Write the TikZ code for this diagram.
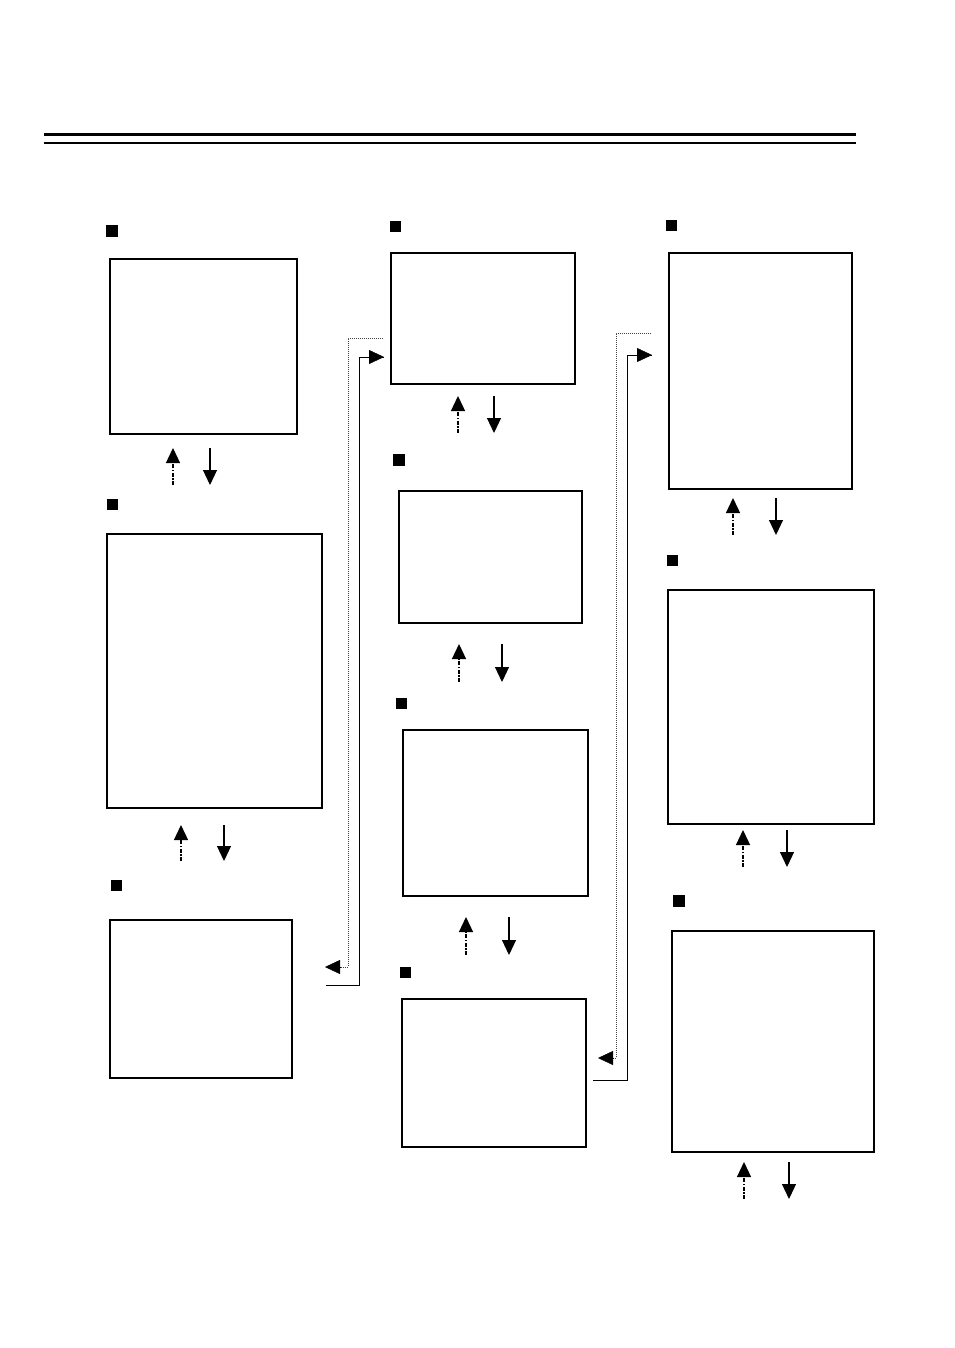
\documentclass[tikz,border=0pt]{standalone}
\usetikzlibrary{arrows.meta,calc}
\begin{document}
\begin{tikzpicture}[x=1pt,y=-1pt,
  panel/.style={draw,line width=2.2pt,inner sep=0pt,outer sep=0pt,anchor=north west},
  marker/.style={fill=black,inner sep=0pt,minimum size=11.5pt},
  tip/.style={-{Triangle[width=14pt,length=15pt]}},
  solidarr/.style={tip,line width=1.1pt},
  dotarr/.style={tip,line width=1.3pt,dash pattern=on 4pt off 1.5pt on 1.5pt off 1.5pt},
  fineline/.style={line width=1pt},
  finedot/.style={line width=0.9pt,dash pattern=on 1pt off 1pt,black!75},
]
\useasboundingbox (0,0) rectangle (954,1348);
% header rules
\draw[line width=3pt] (44,135) -- (856,135);
\draw[line width=2pt] (44,143) -- (856,143);
% panels
\newcommand{\panel}[5]{\node[panel,minimum width=#4pt-#2pt,minimum height=#5pt-#3pt] (#1) at (#2,#3) {};}
\panel{A}{110}{259}{297}{434}
\panel{B}{107}{534}{322}{808}
\panel{C}{110}{920}{292}{1078}
\panel{D}{391}{253}{575}{384}
\panel{E}{399}{491}{582}{623}
\panel{F}{403}{730}{588}{896}
\panel{G}{402}{999}{586}{1147}
\panel{H}{669}{253}{852}{489}
\panel{I}{668}{590}{874}{824}
\panel{J}{672}{931}{874}{1152}
% markers
\node[marker] (mA) at (112,231) {};
\node[marker] (mB) at (112.5,504.5) {};
\node[marker] (mC) at (116.5,885.5) {};
\node[marker] (mD) at (395.5,226.5) {};
\node[marker] (mE) at (399,460) {};
\node[marker] (mF) at (401.5,703.5) {};
\node[marker] (mG) at (405.5,972.5) {};
\node[marker] (mH) at (671.5,225.5) {};
\node[marker] (mI) at (672.5,560.5) {};
\node[marker] (mJ) at (679,901) {};
% up/down arrow pairs
\newcommand{\updown}[5]{%
  \coordinate (#1u0) at (#2,#5); \coordinate (#1u1) at (#2,#4);
  \coordinate (#1d0) at (#3,#4); \coordinate (#1d1) at (#3,#5);
  \draw[dotarr] (#1u0) -- (#1u1);
  \draw[solidarr] (#1d0) -- (#1d1);}
\updown{ab}{173}{210}{448}{485}
\updown{bc}{181}{224}{825}{861}
\updown{de}{458}{494}{396}{433}
\updown{ef}{459}{502}{644}{682}
\updown{fg}{466}{509}{917}{955}
\updown{hi}{733}{776}{498}{535}
\updown{ij}{743}{787}{830}{867}
\updown{jx}{744}{789}{1162}{1199}
% connector C <-> D
\coordinate (c1s) at (326,985);
\coordinate (c1a) at (359,985);
\coordinate (c1b) at (359,357);
\coordinate (c1t) at (384,357);
\draw[fineline] (c1s) -- (c1a) -- (c1b) -- (c1t);
\draw[tip] ($(c1t)+(-15,0)$) -- (c1t);
\coordinate (d1s) at (383,338);
\coordinate (d1a) at (348,338);
\coordinate (d1b) at (348,967);
\coordinate (d1t) at (325,967);
\draw[finedot] (d1s) -- (d1a) -- (d1b) -- ($(d1t)+(14,0)$);
\draw[tip] ($(d1t)+(15,0)$) -- (d1t);
% connector G <-> H
\coordinate (c2s) at (593,1080);
\coordinate (c2a) at (627,1080);
\coordinate (c2b) at (627,355);
\coordinate (c2t) at (652,355);
\draw[fineline] (c2s) -- (c2a) -- (c2b) -- (c2t);
\draw[tip] ($(c2t)+(-15,0)$) -- (c2t);
\coordinate (d2s) at (651,333);
\coordinate (d2a) at (616,333);
\coordinate (d2b) at (616,1058);
\coordinate (d2t) at (598,1058);
\draw[finedot] (d2s) -- (d2a) -- (d2b) -- ($(d2t)+(14,0)$);
\draw[tip] ($(d2t)+(15,0)$) -- (d2t);
\end{tikzpicture}
\end{document}
